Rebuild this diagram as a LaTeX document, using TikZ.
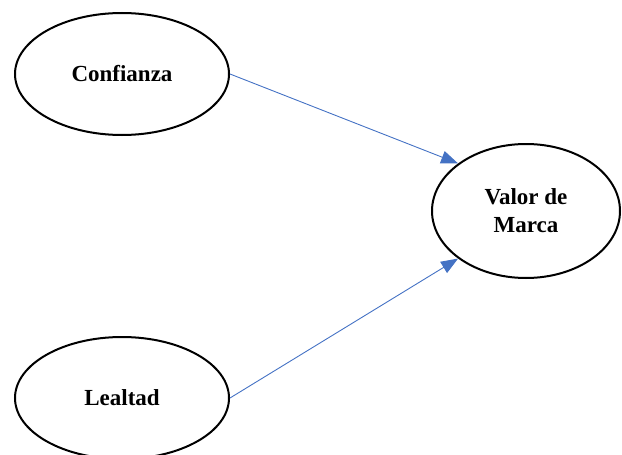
\documentclass[tikz,border=0pt]{standalone}
\usepackage{fontspec}
\setmainfont{Liberation Serif}
\usetikzlibrary{shapes.geometric,arrows.meta}
\definecolor{arrowblue}{HTML}{4472C4}
\tikzset{
  oval/.style={ellipse,draw=black,line width=2pt,inner sep=0pt,
    font=\fontsize{23}{28}\selectfont\bfseries,align=center},
  link/.style={draw=arrowblue,line width=0.9pt,-{Triangle[length=17pt,width=13pt]}}
}
\begin{document}
\begin{tikzpicture}[x=1pt,y=-1pt]
\useasboundingbox (0,0) rectangle (622,455);
\node[oval,minimum width=214pt,minimum height=122pt] (conf) at (122,74) {Confianza};
\node[oval,minimum width=214pt,minimum height=122pt] (leal) at (122,398) {Lealtad};
\node[oval,minimum width=188pt,minimum height=134pt] (valor) at (526,211) {Valor de\\Marca};
\draw[link] (conf.east) -- (valor.145);
\draw[link] (leal.east) -- (valor.215);
\end{tikzpicture}
\end{document}
